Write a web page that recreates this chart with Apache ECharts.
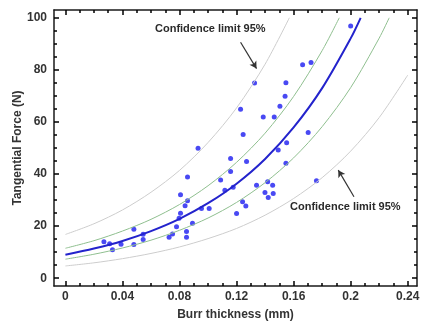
<!DOCTYPE html>
<html><head><meta charset="utf-8">
<script src="https://cdn.jsdelivr.net/npm/echarts@6/dist/echarts.min.js"></script>
<style>html,body{margin:0;padding:0;background:#fff}#c{width:422px;height:324px}</style>
</head><body><div id="c"></div>
<script>
// ---- data ----
const pointsX = [0.027,0.031,0.033,0.039,0.048,0.048,0.0545,0.0545,0.0727,0.0751,0.0779,0.0797,0.0807,0.0807,0.0839,0.0856,0.0856,0.0849,0.0849,0.0891,0.093,0.0954,0.1008,0.1088,0.1118,0.1158,0.1158,0.1176,0.120,0.1228,0.1246,0.1242,0.127,0.1265,0.1326,0.134,0.1387,0.1399,0.1418,0.1422,0.1457,0.1453,0.1464,0.1492,0.1504,0.154,0.1546,0.1551,0.1546,0.1663,0.1722,0.1702,0.176,0.200];
const pointsY = [14.0,13.2,10.9,13.0,18.8,12.9,16.9,14.9,15.7,17.0,19.8,23.0,24.9,32.0,27.8,38.9,29.7,17.9,15.7,21.1,49.9,26.8,26.8,37.7,33.8,46.0,41.0,34.9,24.8,64.9,55.2,29.4,44.8,27.7,75.0,35.7,61.9,32.9,37.0,31.0,32.5,35.7,61.9,49.2,66.0,69.9,75.1,52.0,44.1,82.0,82.8,56.0,37.4,96.9];

const fitX = [0,0.02,0.04,0.06,0.08,0.10,0.12,0.14,0.16,0.18,0.20,0.207];
const fitY = [9.0,11.4,14.3,18.1,22.8,28.8,36.3,45.8,57.9,73.0,92.1,100];

const upperBandX = [0,0.02,0.04,0.06,0.08,0.10,0.12,0.14,0.16,0.18,0.192];
const upperBandY = [11.5,14.4,18.1,22.6,28.3,35.5,44.5,55.7,69.8,87.4,100];

const lowerBandX = [0,0.02,0.04,0.06,0.08,0.10,0.12,0.14,0.16,0.18,0.20,0.22,0.227];
const lowerBandY = [7.3,9.2,11.6,14.6,18.4,23.1,29.1,36.7,46.2,58.2,73.2,92.2,100];

const upperLimitX = [0,0.02,0.04,0.06,0.08,0.10,0.12,0.14,0.157];
const upperLimitY = [16.8,20.9,26.2,33.0,41.4,52.1,65.4,82.2,100];

const lowerLimitX = [0,0.02,0.04,0.06,0.08,0.10,0.12,0.14,0.16,0.18,0.20,0.22,0.24];
const lowerLimitY = [4.7,5.9,7.5,9.5,12.0,15.2,19.1,24.2,30.6,38.6,48.8,61.7,78.0];

const xMajorTicks = [0,0.04,0.08,0.12,0.16,0.2,0.24];
const xMinorTicks = [0.01,0.02,0.03,0.05,0.06,0.07,0.09,0.1,0.11,0.13,0.14,0.15,0.17,0.18,0.19,0.21,0.22,0.23];
const yMajorTicks = [0,20,40,60,80,100];
const yMinorTicks = [5,10,15,25,30,35,45,50,55,65,70,75,85,90,95];

const xLabelName = 'Burr thickness (mm)';
const yLabelName = 'Tangential Force (N)';
const annotationText = 'Confidence limit 95%';

// ---- chart ----
const FONT = '"Liberation Sans", Arial, sans-serif';
const X_MIN = -0.008, X_MAX = 0.2465, Y_MIN = -3, Y_MAX = 103;
const zip = (a, b) => a.map((v, i) => [v, b[i]]);

function xAx(pos, ticks, len, labels, line) {
  return {
    type: 'value', position: pos, min: X_MIN, max: X_MAX,
    axisLine: { show: line, onZero: false, lineStyle: { color: '#1a1a1a', width: 1.5 } },
    axisTick: { show: true, inside: true, length: len, customValues: ticks, lineStyle: { color: '#000', width: 1.5 } },
    axisLabel: labels ? { show: true, customValues: ticks, color: '#333', fontFamily: FONT, fontWeight: 'bold', fontSize: 12, margin: 5 } : { show: false },
    splitLine: { show: false }
  };
}
function yAx(pos, ticks, len, labels, line) {
  return {
    type: 'value', position: pos, min: Y_MIN, max: Y_MAX,
    axisLine: { show: line, onZero: false, lineStyle: { color: '#1a1a1a', width: 1.5 } },
    axisTick: { show: true, inside: true, length: len, customValues: ticks, lineStyle: { color: '#000', width: 1.5 } },
    axisLabel: labels ? { show: true, customValues: ticks, color: '#333', fontFamily: FONT, fontWeight: 'bold', fontSize: 12, margin: 7 } : { show: false },
    splitLine: { show: false }
  };
}

const xAxes = [
  xAx('bottom', xMajorTicks, 5, true, true),
  xAx('bottom', xMinorTicks, 3, false, false),
  xAx('top', xMajorTicks, 5, false, true),
  xAx('top', xMinorTicks, 3, false, false)
];
xAxes[0].name = xLabelName;
xAxes[0].nameLocation = 'middle';
xAxes[0].nameGap = 23;
xAxes[0].nameMoveOverlap = false;
xAxes[0].nameTextStyle = { color: '#333', fontFamily: FONT, fontWeight: 'bold', fontSize: 12 };

const yAxes = [
  yAx('left', yMajorTicks, 5, true, true),
  yAx('left', yMinorTicks, 3, false, false),
  yAx('right', yMajorTicks, 5, false, true),
  yAx('right', yMinorTicks, 3, false, false)
];
yAxes[0].name = yLabelName;
yAxes[0].nameLocation = 'middle';
yAxes[0].nameGap = 30;
yAxes[0].nameMoveOverlap = false;
yAxes[0].nameTextStyle = { color: '#333', fontFamily: FONT, fontWeight: 'bold', fontSize: 12 };

function curve(x, y, color, width) {
  return { type: 'line', data: zip(x, y), smooth: 0.3, symbol: 'none', silent: true,
    lineStyle: { color: color, width: width }, xAxisIndex: 0, yAxisIndex: 0, animation: false };
}

const chart = echarts.init(document.getElementById('c'), null, { renderer: 'canvas' });
chart.setOption({
  animation: false,
  grid: { left: 54, right: 5, top: 10, bottom: 38, containLabel: false, outerBoundsMode: 'none' },
  xAxis: xAxes,
  yAxis: yAxes,
  graphic: [
    { type: 'text', left: 155, top: 23, style: { text: annotationText, fill: '#2a2a2a', font: 'bold 11px ' + FONT } },
    { type: 'text', left: 290, top: 201, style: { text: annotationText, fill: '#2a2a2a', font: 'bold 11px ' + FONT } }
  ],
  series: [
    curve(upperLimitX, upperLimitY, '#cdcdcd', 1),
    curve(lowerLimitX, lowerLimitY, '#cdcdcd', 1),
    curve(upperBandX, upperBandY, '#8fbf8f', 1),
    curve(lowerBandX, lowerBandY, '#8fbf8f', 1),
    curve(fitX, fitY, '#2323cc', 2),
    {
      type: 'scatter', data: zip(pointsX, pointsY), symbol: 'circle', symbolSize: 5,
      itemStyle: { color: '#1c1cf0' }, xAxisIndex: 0, yAxisIndex: 0,
      markLine: {
        silent: true, animation: false, label: { show: false },
        lineStyle: { color: '#333', width: 1.2, type: 'solid' },
        symbolSize: [6, 7],
        data: [
          [{ coord: [0.1228, 90.6], symbol: 'none' }, { coord: [0.134, 80.5], symbol: 'arrow' }],
          [{ coord: [0.2023, 31.3], symbol: 'none' }, { coord: [0.1913, 41.5], symbol: 'arrow' }]
        ]
      }
    }
  ]
});
</script>
</body></html>
